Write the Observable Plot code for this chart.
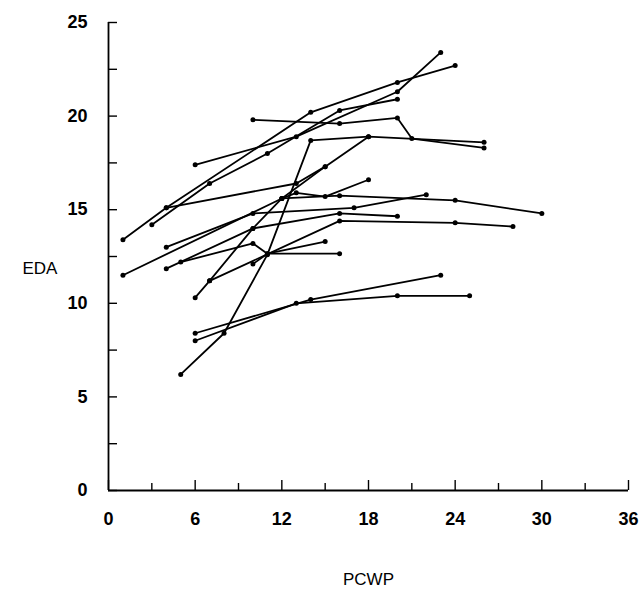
<!DOCTYPE html>
<html><head><meta charset="utf-8">
<script src="https://cdn.jsdelivr.net/npm/d3@7"></script>
<script src="https://cdn.jsdelivr.net/npm/@observablehq/plot@0.6"></script>
<style>body{margin:0;background:#fff}</style>
</head><body><div id="chart"></div>
<script>
// Each patient: [PCWP, EDA] pairs
const patient01 = [[1,13.4],[4,15.1],[14,20.2],[20,21.8],[24,22.7]];
const patient02 = [[3,14.2],[7,16.4],[11,18.0],[16,20.3],[20,20.9]];
const patient03 = [[6,17.4],[13,18.9],[20,21.3],[23,23.4]];
const patient04 = [[10,19.8],[16,19.6],[20,19.9],[21,18.8],[26,18.3]];
const patient05 = [[4,15.1],[13,16.4],[15,17.3],[18,18.9]];
const patient06 = [[6,10.3],[7,11.2],[16,14.4],[24,14.3],[28,14.1]];
const patient07 = [[5,12.2],[10,13.2],[11,12.65],[16,12.65]];
const patient08 = [[10,12.1],[11,12.65],[15,13.3]];
const patient09 = [[5,6.2],[8,8.4],[11,12.6],[14,18.7],[18,18.9],[26,18.6]];
const patient10 = [[6,8.4],[14,10.2],[23,11.5]];
const patient11 = [[6,8.0],[13,10.0],[20,10.4],[25,10.4]];
const patient12 = [[4,13.0],[10,14.8],[17,15.1],[22,15.8]];
const patient13 = [[1,11.5],[12,15.6],[16,15.75],[24,15.5],[30,14.8]];
const patient14 = [[4,11.85],[10,14.0],[16,14.8],[20,14.65]];
const patient15 = [[7,11.2],[10,14.0],[12,15.6],[15,17.3]];
const patient16 = [[12,15.6],[13,15.9],[15,15.7],[18,16.6]];

const patients = [patient01,patient02,patient03,patient04,patient05,patient06,patient07,patient08,
  patient09,patient10,patient11,patient12,patient13,patient14,patient15,patient16];

const xTicks = [0,6,12,18,24,30,36];
const xMinorTicks = [3,9,15,21,27,33];
const yTicks = [0,5,10,15,20,25];
const yMinorTicks = [2.5,7.5,12.5,17.5,22.5];
const xTitle = "PCWP";
const yTitle = "EDA";

const rows = patients.flatMap((p,i)=>p.map(([x,y])=>({id:i,x,y})));

const chart = Plot.plot({
  width:644, height:593,
  marginLeft:108, marginRight:16, marginTop:22, marginBottom:103,
  x:{domain:[0,36]}, y:{domain:[0,25]},
  style:{fontFamily:"'Liberation Sans', Arial, sans-serif", color:"#000", background:"#fff", overflow:"visible"},
  marks:[
    Plot.ruleY([0],{strokeWidth:1.8}),
    Plot.ruleX([0],{strokeWidth:1.8}),
    Plot.axisX(xTicks,{tickSize:-10, text:null, label:null, strokeWidth:1.4}),
    Plot.axisX(xMinorTicks,{tickSize:-7, text:null, label:null, strokeWidth:1.4}),
    Plot.axisX(xTicks,{tickSize:0, tickPadding:22, fontSize:18, fontWeight:"bold", label:null}),
    Plot.axisY(yTicks,{tickSize:-9, text:null, label:null, strokeWidth:1.4}),
    Plot.axisY(yMinorTicks,{tickSize:-9, text:null, label:null, strokeWidth:1.4}),
    Plot.axisY(yTicks,{tickSize:0, tickPadding:21, fontSize:18, fontWeight:"bold", label:null}),
    Plot.line(rows,{x:"x", y:"y", z:"id", stroke:"#000", strokeWidth:1.8}),
    Plot.dot(rows,{x:"x", y:"y", r:2.5, fill:"#000", stroke:null}),
    Plot.text([xTitle],{frameAnchor:"bottom", dy:94, fontSize:17, text:d=>d}),
    Plot.text([yTitle],{frameAnchor:"left", dx:-86, dy:12, fontSize:17, text:d=>d})
  ]
});
document.getElementById("chart").appendChild(chart);
</script>
</body></html>
